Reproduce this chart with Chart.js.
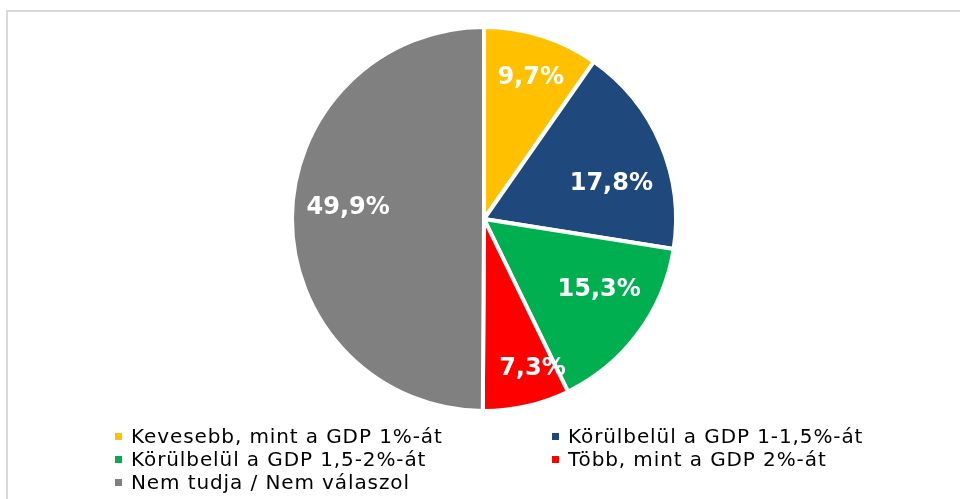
<!DOCTYPE html>
<html>
<head>
<meta charset="utf-8">
<script src="https://cdn.jsdelivr.net/npm/chart.js@4/dist/chart.umd.min.js"></script>
<style>
  html, body { margin: 0; padding: 0; background: #fff; overflow: hidden; }
  #wrap { position: relative; width: 960px; height: 499px; }
  #frame {
    position: absolute; left: 6px; top: 10px; width: 1000px; height: 600px;
    border: 2px solid #d9d9d9; box-sizing: border-box;
  }
  #myChart { position: absolute; left: 0; top: 0; }
  #legend {
    position: absolute; left: 115px; top: 425px;
    display: grid; grid-template-columns: 437px 370px;
    font-family: "DejaVu Sans", Verdana, sans-serif; font-size: 20px;
    letter-spacing: 0.9px; line-height: 23px; color: #000;
  }
  #legend .item { display: flex; align-items: center; white-space: nowrap; }
  #legend .box { width: 7px; height: 7px; margin-right: 9px; flex: none; }
</style>
</head>
<body>
<div id="wrap">
  <div id="frame"></div>
  <canvas id="myChart" width="960" height="499"></canvas>
  <div id="legend"></div>
</div>
<script>
const labels = [
  "Kevesebb, mint a GDP 1%-át",
  "Körülbelül a GDP 1-1,5%-át",
  "Körülbelül a GDP 1,5-2%-át",
  "Több, mint a GDP 2%-át",
  "Nem tudja / Nem válaszol",
];
const values = [9.7, 17.8, 15.3, 7.3, 49.9];
const colors = ["#FFC000", "#1F497D", "#00B050", "#FF0000", "#808080"];

// where each percentage sits inside its slice (fraction of radius, fraction of slice angle)
const labelSpots = [
  { r: 0.78, t: 0.52 },
  { r: 0.69, t: 0.61 },
  { r: 0.70, t: 0.40 },
  { r: 0.815, t: 0.30 },
  { r: 0.71, t: 0.527 },
];

const sliceLabels = {
  id: "sliceLabels",
  afterDatasetsDraw(chart) {
    const c = chart.ctx;
    const arcs = chart.getDatasetMeta(0).data;
    c.save();
    c.font = "bold 24px 'DejaVu Sans', Verdana, sans-serif";
    c.fillStyle = "#fff";
    c.textAlign = "center";
    c.textBaseline = "middle";
    arcs.forEach((arc, i) => {
      const spot = labelSpots[i];
      const a = arc.startAngle + (arc.endAngle - arc.startAngle) * spot.t;
      const rr = arc.outerRadius * spot.r;
      const x = arc.x + Math.cos(a) * rr;
      const y = arc.y + Math.sin(a) * rr;
      c.fillText(values[i].toFixed(1).replace(".", ",") + "%", x, y + 1);
    });
    c.restore();
  },
};

const ctx = document.getElementById("myChart").getContext("2d");

const data = {
  labels: labels,
  datasets: [
    {
      data: values,
      backgroundColor: colors,
      borderColor: "#fff",
      borderWidth: 4,
    },
  ],
};

const config = {
  type: "pie",
  data: data,
  options: {
    responsive: false,
    animation: false,
    layout: {
      padding: { top: 25, bottom: 86, left: 97, right: 89 },
    },
    plugins: {
      legend: { display: false },
      tooltip: { enabled: false },
    },
  },
  plugins: [sliceLabels],
};

const myChart = new Chart(ctx, config);

const legendEl = document.getElementById("legend");
labels.forEach((lab, i) => {
  const item = document.createElement("div");
  item.className = "item";
  const box = document.createElement("span");
  box.className = "box";
  box.style.background = colors[i];
  const txt = document.createElement("span");
  txt.textContent = lab;
  item.appendChild(box);
  item.appendChild(txt);
  legendEl.appendChild(item);
});
</script>
</body>
</html>
